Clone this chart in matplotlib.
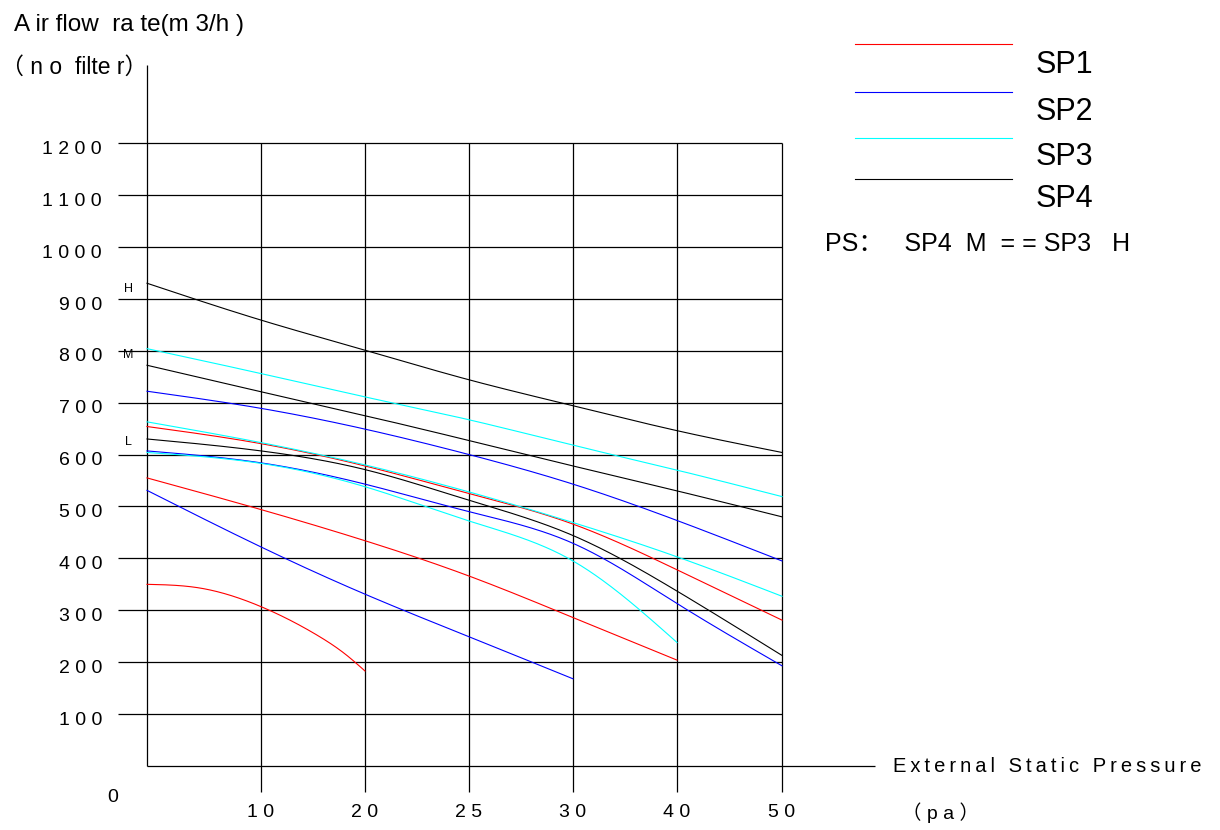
import numpy as np
import matplotlib
matplotlib.use("Agg")
import matplotlib.pyplot as plt

W, H = 1220, 830
FONT = ['Liberation Sans', 'Noto Sans CJK SC', 'DejaVu Sans']
plt.rcParams['font.family'] = FONT

# x axis: pressure ticks (pa) and their horizontal spacing (grid units)
pa_ticks = [0, 10, 20, 25, 30, 40, 50]
tick_pos = np.array([0, 114, 218, 322, 426, 530, 635]) / 104.0
flow_ticks = [100, 200, 300, 400, 500, 600, 700, 800, 900, 1000, 1100, 1200]

# curves: air flow (m3/h) vs pressure (pa)
pa_full = [0, 10, 20, 25, 30, 40, 50]

sp1_H = [654, 621, 578, 525, 466, 378, 281]
sp1_M_pa = [0, 10, 20, 25, 30, 40]
sp1_M = [555, 494, 434, 366, 286, 204]
sp1_L_pa = [0, 4.6, 10, 15.4, 18.2, 20]
sp1_L = [350, 343, 307, 252, 214, 183]

sp2_H = [722, 689, 649, 600, 543, 473, 395]
sp2_M = [607, 584, 543, 490, 429, 313, 193]
sp2_L_pa = [0, 10, 20, 25, 30]
sp2_L = [531, 422, 331, 249, 168]

sp3_H = [804, 756, 711, 667, 618, 570, 519]
sp3_M = [663, 623, 580, 528, 469, 403, 327]
sp3_L_pa = [0, 10, 20, 25, 30, 40]
sp3_L = [604, 583, 538, 472, 395, 238]

sp4_H = [930, 859, 801, 744, 694, 646, 604]
sp4_M = [772, 721, 675, 627, 578, 530, 480]
sp4_L = [630, 607, 571, 512, 444, 337, 213]

series = [
    ("SP1", "#ff0000", [(pa_full, sp1_H), (sp1_M_pa, sp1_M), (sp1_L_pa, sp1_L)]),
    ("SP2", "#0000ff", [(pa_full, sp2_H), (pa_full, sp2_M), (sp2_L_pa, sp2_L)]),
    ("SP3", "#00ffff", [(pa_full, sp3_H), (pa_full, sp3_M), (sp3_L_pa, sp3_L)]),
    ("SP4", "#000000", [(pa_full, sp4_H), (pa_full, sp4_M), (pa_full, sp4_L)]),
]


def xpos(pa):
    return np.interp(pa, pa_ticks, tick_pos)


def smooth(x, y, n=300):
    # natural cubic spline, only for drawing a smooth line through the points
    x = np.asarray(x, float)
    y = np.asarray(y, float)
    k = len(x)
    h = np.diff(x)
    A = np.zeros((k, k))
    b = np.zeros(k)
    A[0, 0] = A[-1, -1] = 1
    for i in range(1, k - 1):
        A[i, i - 1] = h[i - 1]
        A[i, i] = 2 * (h[i - 1] + h[i])
        A[i, i + 1] = h[i]
        b[i] = 6 * ((y[i + 1] - y[i]) / h[i] - (y[i] - y[i - 1]) / h[i - 1])
    M = np.linalg.solve(A, b)
    xs = np.linspace(x[0], x[-1], n)
    j = np.clip(np.searchsorted(x, xs) - 1, 0, k - 2)
    a = x[j + 1] - xs
    c = xs - x[j]
    hj = h[j]
    ys = (M[j] * a**3 / (6 * hj) + M[j + 1] * c**3 / (6 * hj)
          + (y[j] / hj - M[j] * hj / 6) * a + (y[j + 1] / hj - M[j + 1] * hj / 6) * c)
    return xs, ys


def fpx(x, y):
    # pixel position -> figure fraction
    return x / W, 1 - y / H


fig = plt.figure(figsize=(12.2, 8.3), dpi=100)
ax = fig.add_axes([0, 0, 1, 1])
ax.axis('off')
px_per_unit = 104.0
px_per_flow = 571 / 1100.0
ax.set_xlim(-147 / px_per_unit, (W - 147) / px_per_unit)
ax.set_ylim(-(H - 766) / px_per_flow, 766 / px_per_flow)

grid_kw = dict(color='black', lw=0.9, solid_capstyle='butt')
# horizontal grid
for v in flow_ticks:
    ax.plot([-29 / px_per_unit, tick_pos[-1]], [v, v], **grid_kw)
# vertical grid
for p in tick_pos[1:]:
    ax.plot([p, p], [-26 / px_per_flow, 1200], **grid_kw)
# axes lines
ax.plot([0, 0], [0, 1350], **grid_kw)
ax.plot([0, 728 / px_per_unit], [0, 0], **grid_kw)

# curves (smoothed along the drawn axis)
for name, color, curves in series:
    for pa, flow in curves:
        xs, ys = smooth(xpos(pa), flow)
        ax.plot(xs, ys, color=color, lw=0.8)

# y tick labels
for v in flow_ticks:
    ax.text(-45 / px_per_unit, v - 12, ' '.join(str(v)), ha='right', va='center',
            fontsize=14)
# x tick labels
for p, lab in zip(tick_pos[1:], pa_ticks[1:]):
    ax.text(p, -(812 - 766) / px_per_flow, ' '.join(str(lab)), ha='center',
            va='center', fontsize=14)
fig.text(*fpx(113, 797), '0', ha='center', va='center', fontsize=14)

# H / M / L marks
for lab, y in [('H', 289.5), ('M', 354.5), ('L', 441.5)]:
    fig.text(*fpx(128.5, y), lab, ha='center', va='center', fontsize=9)

# axis titles
fig.text(*fpx(14, 31), 'A ir flow  ra te(m 3/h )', ha='left', va='baseline',
         fontsize=17.5)
fig.text(*fpx(1, 73.5), '（ n o  filte r）', ha='left', va='baseline',
         fontsize=16.5)
fig.text(*fpx(893, 766), '\u2009'.join('External Static Pressure'), ha='left',
         va='center', fontsize=14.5, family=['Liberation Sans', 'DejaVu Sans'])
fig.text(*fpx(940, 813), '（ p a ）', ha='center', va='center', fontsize=14)

# legend
legend_line_y = [44.5, 92.3, 137.7, 178.7]
legend_text_y = [65, 112, 157, 199]
for (name, color, _), ly, ty in zip(series, legend_line_y, legend_text_y):
    x0, y0 = fpx(855, ly)
    x1, _ = fpx(1012, ly)
    fig.add_artist(plt.Line2D([x0, x1], [y0, y0], color=color, lw=0.8))
    fig.text(*fpx(1036, ty), name, ha='left', va='center', fontsize=22)

fig.text(*fpx(825, 244), 'PS：   SP4  M  = = SP3   H', ha='left', va='center',
         fontsize=18)

fig.savefig('out.png', dpi=100)
